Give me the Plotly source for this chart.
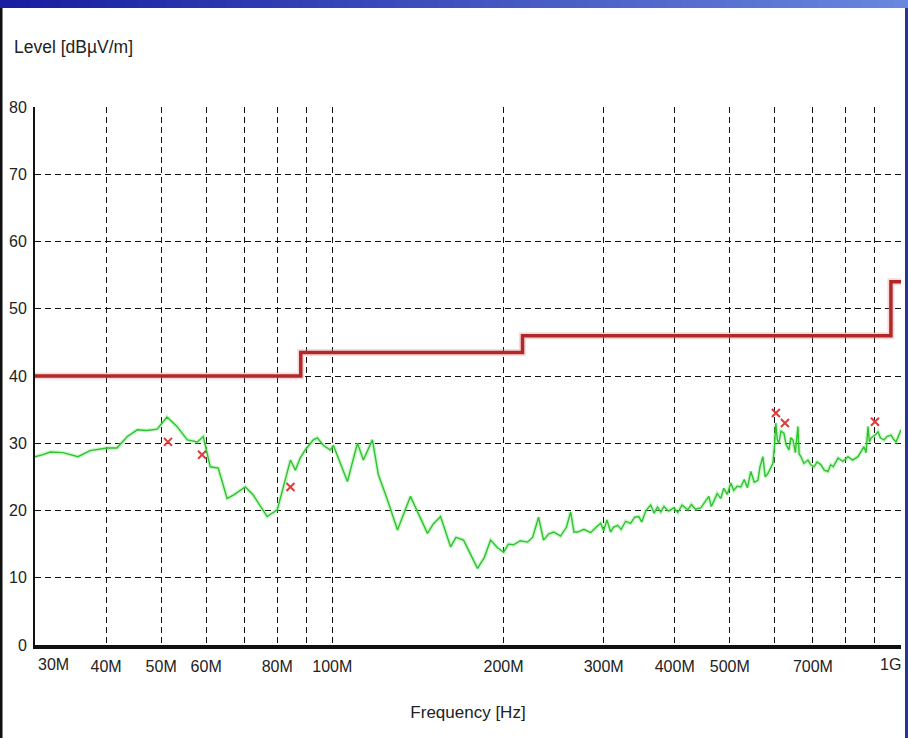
import plotly.graph_objects as go

# ---------------- data ----------------
trace_freq_mhz = [30.0, 31.0, 31.9, 33.6, 35.7, 37.5, 40.2, 41.8, 43.6, 45.4, 47.2, 49.2, 51.2, 53.3,
                  55.6, 57.9, 59.3, 61.0, 63.0, 65.3, 67.0, 70.3, 72.6, 76.8, 80.0, 82.7, 84.4, 86.1,
                  87.8, 89.6, 92.6, 94.1, 96.4, 99.2, 100.4, 106.3, 110.7, 113.4, 117.6, 120.5, 125.0,
                  130.2, 137.2, 141.2, 147.0, 150.5, 155.0, 161.4, 165.0, 170.1, 175.0, 180.0, 185.0,
                  189.8, 195.0, 200.1, 204.0, 208.3, 214.0, 220.5, 225.0, 230.5, 235.2, 240.0, 245.0,
                  252.0, 258.0, 262.5, 266.0, 270.0, 277.0, 284.6, 290.0, 296.4, 300.0, 304.0, 308.7,
                  312.0, 317.6, 322.0, 328.0, 334.7, 340.0, 345.8, 350.0, 356.0, 363.0, 368.0, 373.0,
                  378.1, 383.0, 390.0, 398.5, 405.0, 412.0, 421.8, 428.0, 435.0, 444.6, 452.0, 459.2,
                  464.0, 468.7, 475.0, 482.0, 488.0, 495.0, 502.0, 508.0, 515.0, 522.8, 530.0, 537.0,
                  544.4, 552.0, 560.2, 565.0, 571.6, 577.0, 583.3, 589.0, 595.3, 599.0, 602.5, 606.0,
                  609.9, 615.0, 622.4, 628.0, 635.2, 640.0, 645.6, 652.0, 658.8, 662.0, 666.8, 675.0,
                  686.0, 694.0, 702.9, 712.0, 723.2, 733.0, 744.0, 752.0, 760.0, 774.8, 790.0, 806.8,
                  822.0, 840.2, 850.0, 860.8, 868.0, 874.9, 880.0, 886.0, 892.8, 900.0, 911.1, 920.0,
                  933.5, 945.0, 960.4, 970.0, 980.1, 990.0, 1000.0]
trace_level = [28.0, 28.3, 28.7, 28.6, 28.0, 28.9, 29.3, 29.3, 31.0, 32.0, 31.9, 32.1, 33.9, 32.5,
               30.5, 30.2, 31.0, 26.5, 26.3, 21.8, 22.3, 23.5, 22.3, 19.1, 20.1, 24.5, 27.5, 26.0,
               27.8, 29.0, 30.5, 30.8, 29.7, 29.0, 29.7, 24.3, 30.0, 27.5, 30.5, 25.3, 21.6,
               17.1, 22.1, 19.8, 16.6, 18.0, 19.1, 14.6, 16.0, 15.6, 13.5, 11.4, 13.0,
               15.6, 14.5, 13.8, 15.0, 14.9, 15.5, 15.3, 16.0, 19.0, 15.6, 16.5, 16.8,
               16.2, 17.5, 19.8, 16.8, 16.8, 17.2, 16.7, 17.4, 18.1, 17.0, 18.6, 16.8,
               17.5, 17.8, 17.2, 18.4, 18.1, 19.0, 19.1, 18.3, 20.0, 20.8, 19.6, 20.5,
               19.8, 20.6, 19.9, 20.4, 19.7, 20.8, 20.1, 20.9, 20.2, 20.4, 21.2, 22.1,
               20.6, 21.5, 22.5, 21.8, 23.3, 22.4, 24.1, 23.0, 23.6, 23.5, 24.6, 23.4,
               25.8, 24.2, 24.5, 26.5, 28.0, 25.0, 25.5, 26.2, 27.0, 29.5, 33.0, 30.5,
               30.0, 31.8, 31.5, 29.8, 29.0, 30.8, 30.5, 28.6, 32.5, 28.4, 28.0, 27.0,
               27.5, 26.8, 26.5, 27.2, 26.8, 26.0, 25.8, 26.8, 26.5, 27.8, 27.3, 28.0,
               27.5, 28.0, 28.8, 29.5, 28.6, 32.5, 30.2, 30.8, 31.0, 31.2, 31.7, 30.8,
               30.5, 31.0, 31.2, 30.6, 30.2, 31.0, 32.0]

limit_freq_mhz = [30, 88, 216, 960, 1000]
limit_level = [40, 43.5, 46, 54, 54]

peak_freq_mhz = [51.4, 59.0, 84.4, 602.5, 625.0, 900.0]
peak_level = [30.2, 28.3, 23.5, 34.5, 33.0, 33.2]

x_tick_vals = [30, 40, 50, 60, 70, 80, 90, 100, 200, 300, 400, 500, 600, 700, 800, 900, 1000]
x_tick_text = ["", "40M", "50M", "60M", "", "80M", "", "100M", "200M", "300M", "400M",
               "500M", "", "700M", "", "", ""]
x_edge_labels = ["30M", "1G"]
y_tick_vals = [0, 10, 20, 30, 40, 50, 60, 70, 80]

# ---------------- figure ----------------
W, H = 908, 738
ML, MR, MT, MB = 35, 7, 107, 93
PW, PH = W - ML - MR, H - MT - MB

def px_x(p):
    return (p - ML) / PW

def px_y(p):
    return 1 - (p - MT) / PH

FONT = "Liberation Sans Narrow, Arial Narrow, Liberation Sans, Arial, sans-serif"
TXT = "#222222"

fig = go.Figure()

fig.add_trace(go.Scatter(
    x=limit_freq_mhz, y=limit_level, mode="lines", line_shape="hv",
    line=dict(color="rgba(230,130,130,0.30)", width=7), hoverinfo="skip", showlegend=False))
fig.add_trace(go.Scatter(
    x=limit_freq_mhz, y=limit_level, mode="lines", line_shape="hv",
    line=dict(color="#b0282a", width=3.5), name="Limit", showlegend=False))

fig.add_trace(go.Scatter(
    x=trace_freq_mhz, y=trace_level, mode="lines",
    line=dict(color="rgba(120,230,120,0.35)", width=4), hoverinfo="skip", showlegend=False))
fig.add_trace(go.Scatter(
    x=trace_freq_mhz, y=trace_level, mode="lines",
    line=dict(color="#2fc42f", width=1.4), name="Level", showlegend=False))

fig.add_trace(go.Scatter(
    x=peak_freq_mhz, y=peak_level, mode="markers",
    marker=dict(symbol="x-thin", size=8, line=dict(color="#e03a3a", width=2)),
    name="Peaks", showlegend=False))

# top gradient bar
shapes = []
n = 60
c0 = (24, 30, 160)
c1 = (105, 135, 222)
for i in range(n):
    t = i / (n - 1)
    col = tuple(int(c0[k] + (c1[k] - c0[k]) * t) for k in range(3))
    shapes.append(dict(type="rect", xref="paper", yref="paper",
                       x0=px_x(W * i / n), x1=px_x(W * (i + 1) / n + 1),
                       y0=px_y(8), y1=px_y(0), line=dict(width=0),
                       fillcolor="rgb(%d,%d,%d)" % col, layer="above"))
# side borders
shapes.append(dict(type="rect", xref="paper", yref="paper", x0=px_x(0), x1=px_x(2.5),
                   y0=px_y(H), y1=px_y(8), line=dict(width=0), fillcolor="#111111"))
shapes.append(dict(type="rect", xref="paper", yref="paper", x0=px_x(905), x1=px_x(908),
                   y0=px_y(H), y1=px_y(8), line=dict(width=0), fillcolor="#2a3590"))

annotations = [
    dict(text="Level [dBµV/m]", xref="paper", yref="paper", x=px_x(12), y=px_y(47),
         xanchor="left", yanchor="middle", showarrow=False,
         font=dict(family=FONT, size=17.5, color=TXT)),
    dict(text=x_edge_labels[0], xref="paper", yref="paper", x=px_x(36), y=px_y(654),
         xanchor="left", yanchor="top", showarrow=False,
         font=dict(family=FONT, size=16, color=TXT)),
    dict(text=x_edge_labels[1], xref="paper", yref="paper", x=px_x(903), y=px_y(654),
         xanchor="right", yanchor="top", showarrow=False,
         font=dict(family=FONT, size=16, color=TXT)),
]

fig.update_layout(
    width=W, height=H,
    margin=dict(l=ML, r=MR, t=MT, b=MB, pad=0, autoexpand=False),
    paper_bgcolor="white", plot_bgcolor="white",
    font=dict(family=FONT, size=16, color=TXT),
    shapes=shapes,
    annotations=annotations,
)

fig.update_xaxes(
    type="log", range=[1.4771212547, 3.0], automargin=False,
    tickmode="array", tickvals=x_tick_vals, ticktext=x_tick_text,
    showgrid=True, gridcolor="#111111", gridwidth=1.3, griddash="6px,4px",
    showline=True, linecolor="#111111", linewidth=4,
    ticks="", zeroline=False, ticklabelstandoff=4,
    title=dict(text="Frequency [Hz]", standoff=33, font=dict(family=FONT, size=17, color=TXT)),
)
fig.update_yaxes(
    range=[0, 80], tickmode="array", tickvals=y_tick_vals, automargin=False,
    showgrid=True, gridcolor="#111111", gridwidth=1.3, griddash="6px,4px",
    showline=True, linecolor="#111111", linewidth=2,
    ticks="", zeroline=False, ticklabelstandoff=3,
)

fig.write_html(
    "out.html",
    config={"displayModeBar": False},
    post_script="document.body.style.margin='0';document.body.style.overflow='hidden';",
)
